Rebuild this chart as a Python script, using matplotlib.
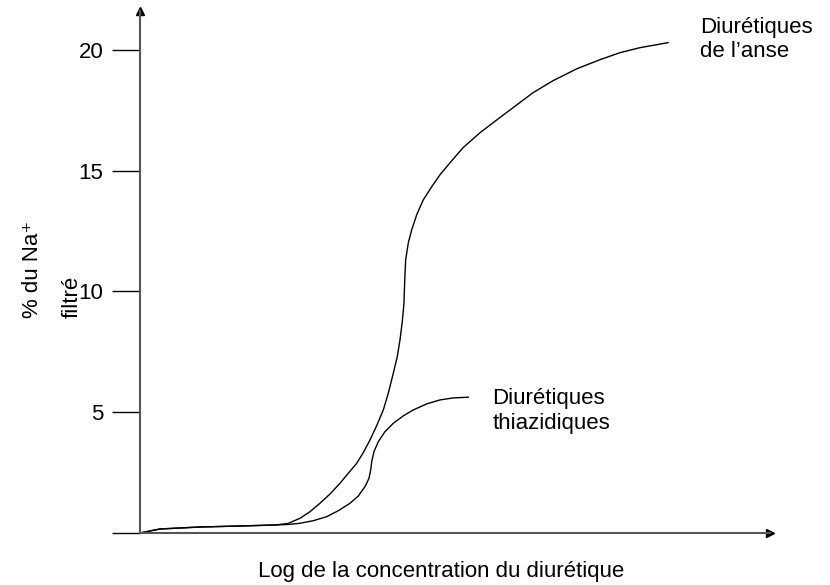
import matplotlib
matplotlib.use('Agg')
import matplotlib.pyplot as plt

# data (x: arbitrary log-concentration units, y: % of filtered Na+)
anse_x = [0.0, 0.317, 0.952, 1.587, 2.143, 2.349, 2.540, 2.698, 2.857, 3.016, 3.175, 3.306,
          3.440, 3.544, 3.651, 3.757, 3.862, 3.941, 4.021, 4.084, 4.127, 4.163, 4.190, 4.202,
          4.217, 4.259, 4.313, 4.392, 4.497, 4.630, 4.762, 4.921, 5.127, 5.397, 5.667, 5.921,
          6.238, 6.556, 6.937, 7.302, 7.619, 7.937, 8.206, 8.381]
anse_y = [0.0, 0.166, 0.248, 0.290, 0.331, 0.393, 0.609, 0.882, 1.230, 1.615, 2.058, 2.472,
          2.886, 3.325, 3.851, 4.443, 5.093, 5.785, 6.613, 7.300, 7.992, 8.749, 9.511, 10.476,
          11.304, 12.008, 12.547, 13.168, 13.789, 14.327, 14.824, 15.321, 15.942, 16.563, 17.101, 17.598,
          18.219, 18.716, 19.213, 19.586, 19.876, 20.083, 20.207, 20.290]

thiaz_x = [0.0, 0.317, 0.952, 1.587, 2.143, 2.349, 2.540, 2.751, 2.963, 3.148, 3.333, 3.465,
           3.571, 3.635, 3.662, 3.678, 3.714, 3.783, 3.889, 4.021, 4.179, 4.338, 4.551, 4.762,
           4.973, 5.211]
thiaz_y = [0.0, 0.166, 0.248, 0.290, 0.331, 0.352, 0.402, 0.509, 0.675, 0.923, 1.230, 1.532,
           1.918, 2.265, 2.609, 2.952, 3.366, 3.781, 4.195, 4.542, 4.845, 5.093, 5.342, 5.507,
           5.590, 5.619]

yticks = [0, 5, 10, 15, 20]
yticklabels = ['', '5', '10', '15', '20']

fontsize = 16
plt.rcParams['font.family'] = ['Liberation Sans', 'DejaVu Sans']

fig = plt.figure(figsize=(8.3, 5.85), dpi=100)
ax = fig.add_axes([140/830, 52/585, 630/830, 522/585])

ax.plot(anse_x, anse_y, color='black', linewidth=1.0, solid_joinstyle='round')
ax.plot(thiaz_x, thiaz_y, color='black', linewidth=1.0, solid_joinstyle='round')

ax.set_xlim(0, 10)
ax.set_ylim(0, 21.6)

for s in ['top', 'right']:
    ax.spines[s].set_visible(False)
for s in ['left', 'bottom']:
    ax.spines[s].set_color('#555555')
    ax.spines[s].set_linewidth(1.5)

ax.set_xticks([])
ax.set_yticks(yticks)
ax.set_yticklabels(yticklabels, fontsize=fontsize)
ax.tick_params(axis='y', direction='out', length=20, width=1.0, color='black', pad=6.5)

# arrow heads on the axes
ax.plot(1, 0, '>', color='black', markersize=6, transform=ax.transAxes, clip_on=False)
ax.plot(0, 1, '^', color='black', markersize=6, transform=ax.transAxes, clip_on=False)

ax.text(8.89, 20.43, 'Diurétiques\nde l\u2019anse', fontsize=fontsize, ha='left', va='center')
ax.text(5.59, 5.05, 'Diurétiques\nthiazidiques', fontsize=fontsize, ha='left', va='center')

fig.text(32/830, 1 - 318/585, '% du Na\u207a', fontsize=fontsize, rotation=90, ha='center', va='bottom')
fig.text(72/830, 1 - 318/585, 'filtré', fontsize=fontsize, rotation=90, ha='center', va='bottom')
fig.text(441/830, 1 - 571/585, 'Log de la concentration du diurétique', fontsize=fontsize,
         ha='center', va='center')

plt.savefig('out.png', dpi=100)
